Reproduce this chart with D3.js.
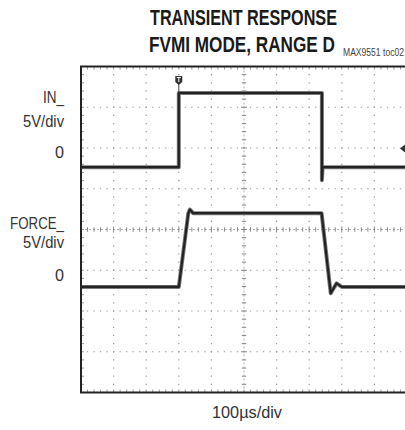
<!DOCTYPE html>
<html><head><meta charset="utf-8">
<script src="https://cdn.jsdelivr.net/npm/d3@7"></script>
<style>body{margin:0;background:#fff;}svg{display:block;}</style>
</head><body>
<svg id="c" width="405" height="430"></svg>
<script>
// ---- data (time in µs, voltage in V) ----
const titleLines = ["TRANSIENT RESPONSE", "FVMI MODE, RANGE D"];
const noteLabel = "MAX9551 toc02";
const xLabel = "100\u00b5s/div";
const inTime   = [0, 300, 300, 739, 739, 741, 741, 1000];
const inVolt   = [0, 0, 9.1, 9.1, -1.6, -0.1, 0, 0];
const forceTime = [0, 300, 329, 334, 344, 738, 766, 784, 800, 1000];
const forceVolt = [0, 0, 9.0, 9.5, 9.05, 9.05, -0.78, 0.45, 0, 0];
const channels = [
  {name: "IN_", scale: "5V/div", zero: 0, offsetDiv: 1.53},
  {name: "FORCE_", scale: "5V/div", zero: 0, offsetDiv: -1.41}
];
const trigTime = 300, trigLevel = 2.3;
const voltsPerDiv = 5, usPerDiv = 100, xDivs = 10, yDivs = 8;

// ---- layout ----
const svg = d3.select("#c");
const X0 = 81, X1 = 407, Y0 = 66.5, Y1 = 392.5;
const x = d3.scaleLinear().domain([0, xDivs * usPerDiv]).range([X0, X1]);
const yDiv = d3.scaleLinear().domain([yDivs / 2, -yDivs / 2]).range([Y0, Y1]);
const dx = (X1 - X0) / xDivs, dy = (Y1 - Y0) / yDivs;

// grid
const g = svg.append("g");
for (let i = 1; i < xDivs; i++) {
  if (i === xDivs / 2) continue;
  g.append("line").attr("x1", X0 + i * dx).attr("x2", X0 + i * dx).attr("y1", Y0).attr("y2", Y1)
    .attr("stroke", "#9a9a9a").attr("stroke-width", 1.2)
    .attr("stroke-dasharray", `1.3 ${dy / 5 - 1.3}`).attr("stroke-dashoffset", -dy / 5 + 0.65);
}
for (let j = 1; j < yDivs; j++) {
  if (j === yDivs / 2) continue;
  g.append("line").attr("y1", Y0 + j * dy).attr("y2", Y0 + j * dy).attr("x1", X0).attr("x2", X1)
    .attr("stroke", "#9a9a9a").attr("stroke-width", 1.2)
    .attr("stroke-dasharray", `1.3 ${dx / 5 - 1.3}`).attr("stroke-dashoffset", -dx / 5 + 0.65);
}
// center axes with minor ticks
const cx = X0 + dx * xDivs / 2, cy = Y0 + dy * yDivs / 2;
g.append("line").attr("x1", cx).attr("x2", cx).attr("y1", Y0).attr("y2", Y1)
  .attr("stroke", "#b0b0b0").attr("stroke-width", 1).attr("stroke-dasharray", "2 2");
g.append("line").attr("y1", cy).attr("y2", cy).attr("x1", X0).attr("x2", X1)
  .attr("stroke", "#b0b0b0").attr("stroke-width", 1).attr("stroke-dasharray", "2 2");
for (let k = 1; k < xDivs * 5; k++) {
  const xx = X0 + k * dx / 5;
  const L = k % 5 === 0 ? 3 : 2.2;
  g.append("line").attr("x1", xx).attr("x2", xx).attr("y1", cy - L).attr("y2", cy + L).attr("stroke", "#888").attr("stroke-width", 1);
  g.append("line").attr("x1", xx).attr("x2", xx).attr("y1", Y0).attr("y2", Y0 + 3).attr("stroke", "#999").attr("stroke-width", 1);
  g.append("line").attr("x1", xx).attr("x2", xx).attr("y1", Y1 - 3).attr("y2", Y1).attr("stroke", "#999").attr("stroke-width", 1);
}
for (let k = 1; k < yDivs * 5; k++) {
  const yy = Y0 + k * dy / 5;
  const L = k % 5 === 0 ? 3 : 2.2;
  g.append("line").attr("y1", yy).attr("y2", yy).attr("x1", cx - L).attr("x2", cx + L).attr("stroke", "#888").attr("stroke-width", 1);
  g.append("line").attr("y1", yy).attr("y2", yy).attr("x1", X0).attr("x2", X0 + 3).attr("stroke", "#999").attr("stroke-width", 1);
}

// traces
function yOf(ch, v) { return yDiv(ch.offsetDiv + (v - ch.zero) / voltsPerDiv); }
function drawTrace(ch, ts, vs) {
  const pts = ts.map((t, i) => [x(t), yOf(ch, vs[i])]);
  const line = d3.line();
  svg.append("path").attr("d", line(pts)).attr("fill", "none")
    .attr("stroke", "#7a7a7a").attr("stroke-width", 4).attr("stroke-linejoin", "round");
  svg.append("path").attr("d", line(pts)).attr("fill", "none")
    .attr("stroke", "#222").attr("stroke-width", 2.2).attr("stroke-linejoin", "round");
}
drawTrace(channels[0], inTime, inVolt);
drawTrace(channels[1], forceTime, forceVolt);

// trigger marker (T) and level arrow
const tx = x(trigTime), tyTop = yOf(channels[0], 9.1);
svg.append("line").attr("x1", tx).attr("x2", tx).attr("y1", tyTop - 10).attr("y2", tyTop)
  .attr("stroke", "#444").attr("stroke-width", 1);
svg.append("path").attr("d", `M${tx - 3.5},${tyTop - 17} h7 v6 l-3.5,3 l-3.5,-3 Z`).attr("fill", "#333");
svg.append("path").attr("d", `M${tx - 2},${tyTop - 15.5} h4 M${tx},${tyTop - 15.5} v4.5`)
  .attr("stroke", "#fff").attr("stroke-width", 1);
const ay = yOf(channels[0], trigLevel);
svg.append("path").attr("d", `M${X1 - 7},${ay} l5,-4 v8 Z`).attr("fill", "#333");

// frame
svg.append("rect").attr("x", X0).attr("y", Y0).attr("width", X1 - X0).attr("height", Y1 - Y0)
  .attr("fill", "none").attr("stroke", "#222").attr("stroke-width", 2);

// texts: drawn at natural size then squeezed horizontally to the reference width
const font = "'Liberation Sans', Arial, sans-serif";
function txt(s, xx, yy, size, anchor, len, weight, color) {
  const grp = svg.append("g");
  const t = grp.append("text").attr("x", 0).attr("y", 0).text(s)
    .attr("font-family", font).attr("font-size", size).attr("text-anchor", anchor)
    .attr("font-weight", weight || "normal").attr("fill", color || "#333");
  const w = t.node().getComputedTextLength();
  const sx = len ? len / w : 1;
  grp.attr("transform", `translate(${xx},${yy}) scale(${sx},1)`);
  return t;
}
txt(titleLines[0], 243.5, 25, 22, "middle", 187, "bold", "#1a1a1a");
txt(titleLines[1], 242, 51.5, 22, "middle", 186, "bold", "#1a1a1a");
txt(noteLabel, 343, 56, 11, "start", 61, "normal", "#444");
txt(channels[0].name, 64, 102.5, 16, "end", 21);
txt(channels[0].scale, 64, 126.5, 16, "end", 41);
txt(String(channels[0].zero), 64, 158, 16, "end", 9);
txt(channels[1].name, 64, 229, 16, "end", 54);
txt(channels[1].scale, 64, 248, 16, "end", 41);
txt(String(channels[1].zero), 64, 281, 16, "end", 9);
txt(xLabel, 247, 418, 16, "middle", 70);
</script>
</body></html>
